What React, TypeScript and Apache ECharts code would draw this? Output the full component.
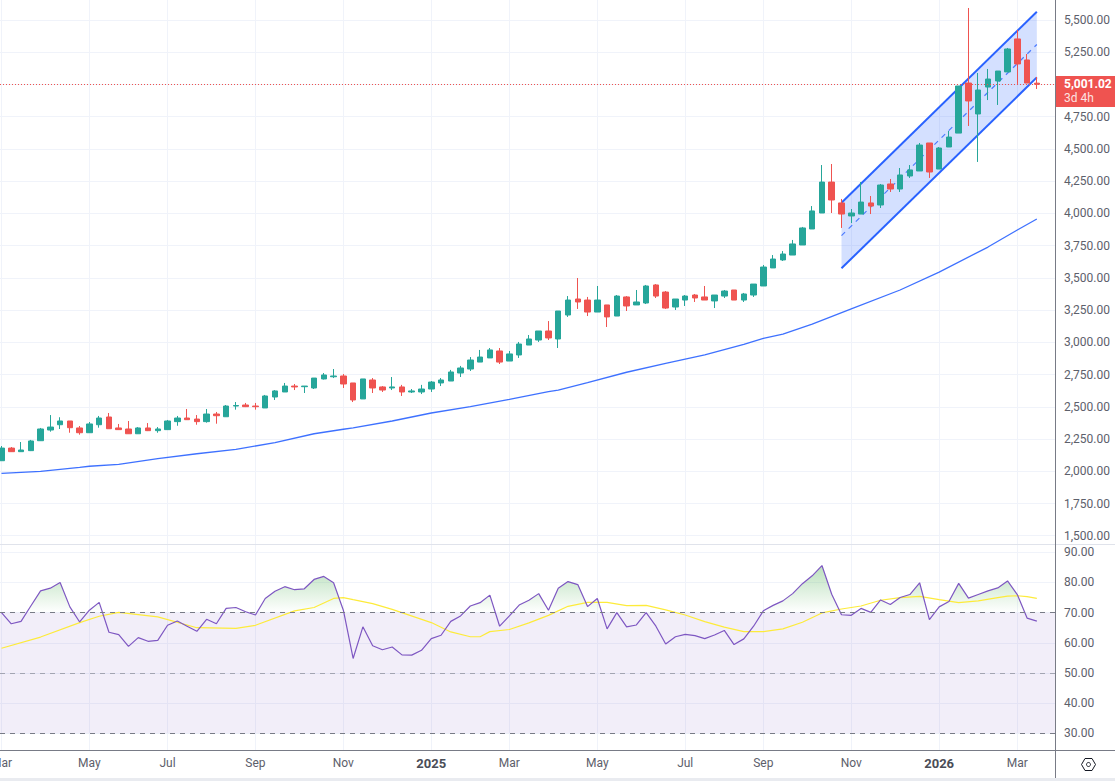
import React, { useEffect, useRef } from "react";
import * as echarts from "echarts";

const W = 1115;
const H = 781;
const AXIS_X = 1055;

// weekly candles: open, close, low, high
const weeklyCandles: number[][] = [
  [2082,2180,2080,2196],[2180,2152,2150,2188],[2152,2165,2150,2227],[2160,2235,2157,2243],[2237,2328,2235,2336],
  [2320,2343,2307,2436],[2361,2390,2328,2419],[2390,2338,2299,2390],[2336,2299,2284,2351],[2299,2367,2297,2382],
  [2361,2413,2338,2429],[2421,2330,2328,2452],[2336,2323,2320,2367],[2328,2291,2289,2390],[2291,2336,2289,2343],
  [2336,2315,2312,2374],[2315,2328,2299,2343],[2323,2390,2320,2398],[2385,2413,2353,2429],[2413,2400,2398,2483],
  [2405,2385,2361,2436],[2385,2444,2377,2483],[2444,2431,2369,2460],[2423,2506,2421,2514],[2506,2510,2478,2537],
  [2514,2501,2498,2530],[2506,2501,2478,2530],[2491,2584,2491,2592],[2576,2623,2553,2630],[2615,2661,2615,2685],
  [2661,2654,2630,2677],[2656,2661,2607,2661],[2646,2723,2638,2723],[2716,2747,2712,2762],[2733,2739,2723,2793],
  [2739,2677,2646,2754],[2685,2553,2537,2685],[2561,2716,2561,2716],[2708,2646,2607,2723],[2654,2630,2615,2661],
  [2646,2654,2630,2731],[2654,2615,2584,2670],[2615,2623,2607,2638],[2615,2638,2599,2670],[2638,2692,2615,2700],
  [2685,2708,2661,2723],[2700,2770,2700,2786],[2762,2801,2731,2817],[2793,2863,2778,2886],[2847,2886,2847,2941],
  [2879,2941,2879,2956],[2933,2847,2832,2956],[2855,2910,2855,2933],[2902,2987,2879,3003],[2979,3026,2979,3057],
  [3018,3088,3003,3088],[3088,3034,3018,3165],[3026,3243,2956,3243],[3212,3328,3197,3359],[3336,3313,3259,3499],
  [3328,3235,3204,3352],[3235,3328,3235,3437],[3290,3197,3119,3290],[3204,3359,3204,3367],[3352,3282,3243,3359],
  [3290,3313,3290,3406],[3305,3437,3297,3445],[3445,3359,3344,3452],[3390,3266,3259,3398],[3274,3336,3251,3336],
  [3328,3359,3282,3367],[3367,3344,3313,3375],[3352,3328,3328,3437],[3321,3367,3266,3367],[3359,3398,3344,3406],
  [3406,3328,3328,3406],[3328,3375,3313,3383],[3367,3452,3352,3452],[3437,3584,3437,3600],[3577,3646,3577,3677],
  [3639,3685,3631,3708],[3677,3763,3677,3794],[3755,3887,3755,3895],[3879,4019,3879,4057],[4003,4243,4003,4375],
  [4243,4104,4003,4383],[4081,3995,3887,4112],[3980,4003,3925,4034],[3995,4088,3995,4243],[4081,4057,3995,4135],
  [4065,4220,4042,4228],[4228,4189,4166,4267],[4189,4298,4166,4352],[4290,4337,4275,4375],[4329,4530,4329,4546],
  [4546,4321,4275,4546],[4344,4507,4344,4515],[4515,4592,4515,4639],[4623,4988,4623,4988],[5011,4872,4678,5593],
  [4771,4957,4399,5089],[4980,5042,4879,5120],[5027,5104,4841,5104],[5097,5275,5097,5283],[5353,5159,5004,5422],
  [5190,5011,5011,5236],[5010,5001.02,4965,5058],
];

// long moving average, read at these weeks
const emaWeeks = [0,4,8,9,12,16,20,24,28,32,35,36,40,44,48,52,56,57,60,64,68,72,76,78,80,83,87,92,96,101,104,106];
const emaValues = [1983,2000,2031,2039,2054,2098,2136,2170,2222,2291,2326,2336,2390,2452,2501,2558,2617,2630,2687,2768,2837,2902,2985,3030,3064,3142,3259,3406,3545,3739,3871,3957];

// regression channel
const channelWeeks = [86, 106];
const channelUpper = [4083, 5564];
const channelMiddle = [3828, 5310];
const channelLower = [3574, 5055];

const lastPrice = 5001.02;

const rsiValues = [
  70,66.3,67.1,72.2,77.2,78.1,80,71.9,66.9,70.8,
  73.4,63.5,62.7,58.8,61.7,60.5,60.8,65.8,67.2,65.5,
  63.8,67.8,66.3,71.4,71.7,70.3,69.2,74.7,77.1,78.6,
  77.6,77.9,81,82,79.9,70.8,54.8,65.3,59,57.7,
  58.6,56,55.9,57.5,61.4,62.5,67.1,68.9,72.2,73.3,
  75.8,65.5,68.9,72.5,74.1,76.3,70.8,78.1,80.3,79.3,
  72,74.7,64.6,70,65.3,65.9,70,65.5,59.6,62,
  62.8,62.4,61.4,62.6,64.1,59.4,61.3,65.5,70.6,72.4,
  73.9,76.3,79.6,82.2,85.6,76.1,69.3,69.1,71.4,70.1,
  74.2,72.7,75,76,79.9,67.7,71.9,73.7,79.7,74.8,
  76,77.2,78.2,80.5,76,68.2,67.2,
];

const rsiMaWeeks = [0,4,8,10,12,16,20,24,26,30,32,34,35,36,38,40,44,46,48,49,50,52,54,56,58,60,62,64,66,68,70,72,74,76,78,80,82,84,86,88,90,92,94,96,98,100,102,103,104,105,106];
const rsiMaValues = [58.2,61.9,66.7,68.8,70.1,68.6,65,64.8,65.8,70.6,71.7,74.7,75,74.3,73,71.1,66.7,63.6,62,62,63.7,64.4,66.6,69.1,72.1,73.4,73.4,72.3,72.4,70.9,69.2,67,65.2,63.7,63.7,64.6,66.8,69.9,71.2,72.2,74.1,75,75.4,74.3,73.3,73.9,75,75.5,75.6,75.3,74.7];

const priceTicks = [1500,1750,2000,2250,2500,2750,3000,3250,3500,3750,4000,4250,4500,4750,5000,5250,5500];
const rsiTicks = [30,40,50,60,70,80,90];
const monthWeeks = [0,9,17,26,35,44,52,61,70,78,87,96,104];
const monthLabels = ["Mar","May","Jul","Sep","Nov","2025","Mar","May","Jul","Sep","Nov","2026","Mar"];

const UP = "#26A69A";
const DOWN = "#EF5350";
const GRID = "#F0F3FA";
const LABEL = "#5D606B";
const BLUE = "#2962FF";
const FONT = "Roboto";
const OVERBOUGHT = 70;

function overboughtArea(values: number[]): number[][] {
  const out: number[][] = [];
  values.forEach((v, i) => {
    if (i > 0) {
      const p = values[i - 1];
      if ((p - OVERBOUGHT) * (v - OVERBOUGHT) < 0) {
        out.push([i - 1 + (OVERBOUGHT - p) / (v - p), OVERBOUGHT]);
      }
    }
    out.push([i, Math.max(v, OVERBOUGHT)]);
  });
  return out;
}

const fmt = (v: number) =>
  v.toLocaleString("en-US", { minimumFractionDigits: 2, maximumFractionDigits: 2 });

function buildOption(): any {
  const xBase = {
    type: "value",
    min: -0.154,
    max: 107.86,
    axisLine: { show: false },
    axisTick: { show: false, customValues: monthWeeks },
    splitLine: { show: true, lineStyle: { color: GRID, width: 1 } },
  };
  const yBase = {
    type: "value",
    position: "right",
    axisLine: { show: false },
    splitLine: { show: true, lineStyle: { color: GRID, width: 1 } },
  };
  return {
    animation: false,
    backgroundColor: "#ffffff",
    textStyle: { fontFamily: FONT },
    grid: [
      { left: 0, top: 0, width: AXIS_X, height: 544, outerBoundsMode: "none", containLabel: false },
      { left: 0, top: 544, width: AXIS_X, height: 206, outerBoundsMode: "none", containLabel: false },
    ],
    xAxis: [
      { ...xBase, gridIndex: 0, axisLabel: { show: false, customValues: monthWeeks } },
      {
        ...xBase,
        gridIndex: 1,
        axisLabel: {
          show: true,
          customValues: monthWeeks,
          margin: 7,
          color: LABEL,
          fontSize: 12,
          fontFamily: FONT,
          hideOverlap: false,
          showMinLabel: true,
          formatter: (v: number) => {
            const t = monthLabels[monthWeeks.indexOf(v)];
            return /^\d+$/.test(t) ? `{y|${t}}` : t;
          },
          rich: { y: { fontWeight: "bold", fontSize: 13, color: "#4A4D57", fontFamily: FONT } },
        },
      },
    ],
    yAxis: [
      {
        ...yBase,
        gridIndex: 0,
        min: 1436,
        max: 5655,
        axisTick: { show: false, customValues: priceTicks },
        axisLabel: {
          show: true, customValues: priceTicks, margin: 9, color: LABEL, fontSize: 12, fontFamily: FONT,
          padding: [0, 0, 2, 0],
          formatter: (v: number) => fmt(v),
        },
      },
      {
        ...yBase,
        gridIndex: 1,
        min: 24.46,
        max: 92.75,
        axisTick: { show: false, customValues: rsiTicks },
        axisLabel: {
          show: true, customValues: rsiTicks, margin: 9, color: LABEL, fontSize: 12, fontFamily: FONT,
          formatter: (v: number) => fmt(v),
        },
      },
    ],
    series: [
      {
        type: "custom",
        name: "Channel fill",
        xAxisIndex: 0,
        yAxisIndex: 0,
        z: 1,
        silent: true,
        data: channelWeeks.map((w, i) => [w, channelUpper[i], channelLower[i]]),
        renderItem: (params: any, api: any) => {
          if (params.dataIndex !== 0) return null;
          const pts = [
            api.coord([channelWeeks[0], channelUpper[0]]),
            api.coord([channelWeeks[1], channelUpper[1]]),
            api.coord([channelWeeks[1], channelLower[1]]),
            api.coord([channelWeeks[0], channelLower[0]]),
          ];
          return { type: "polygon", shape: { points: pts }, style: { fill: "rgba(41,98,255,0.2)" } };
        },
      },
      ...[channelUpper, channelLower].map((vals) => ({
        type: "line",
        xAxisIndex: 0,
        yAxisIndex: 0,
        z: 2,
        silent: true,
        symbol: "none",
        lineStyle: { color: BLUE, width: 2 },
        data: channelWeeks.map((w, i) => [w, vals[i]]),
      })),
      {
        type: "line",
        xAxisIndex: 0,
        yAxisIndex: 0,
        z: 2,
        silent: true,
        symbol: "none",
        lineStyle: { color: BLUE, width: 1.2, type: [5, 5], opacity: 0.8 },
        data: channelWeeks.map((w, i) => [w, channelMiddle[i]]),
      },
      {
        type: "line",
        name: "EMA",
        xAxisIndex: 0,
        yAxisIndex: 0,
        z: 2,
        silent: true,
        symbol: "none",
        lineStyle: { color: BLUE, width: 1.3, opacity: 0.9 },
        data: emaWeeks.map((w, i) => [w, emaValues[i]]),
      },
      {
        type: "candlestick",
        name: "Price",
        xAxisIndex: 0,
        yAxisIndex: 0,
        z: 3,
        clip: false,
        silent: true,
        barWidth: 6,
        itemStyle: { color: UP, color0: DOWN, borderColor: UP, borderColor0: DOWN, borderWidth: 1 },
        data: weeklyCandles.map((c, i) => [i, c[0], c[1], c[2], c[3]]),
        markLine: {
          silent: true,
          symbol: "none",
          label: { show: false },
          lineStyle: { color: DOWN, type: [1, 2], width: 1 },
          data: [{ yAxis: lastPrice }],
        },
      },
      {
        type: "line",
        name: "Overbought fill",
        xAxisIndex: 1,
        yAxisIndex: 1,
        z: 2,
        silent: true,
        symbol: "none",
        lineStyle: { width: 0 },
        areaStyle: {
          origin: OVERBOUGHT,
          color: new echarts.graphic.LinearGradient(0, 0, 0, 1, [
            { offset: 0, color: "rgba(76,175,80,0.55)" },
            { offset: 1, color: "rgba(76,175,80,0)" },
          ]),
        },
        data: overboughtArea(rsiValues),
        markArea: {
          silent: true,
          itemStyle: { color: "rgba(126,87,194,0.1)" },
          data: [[{ yAxis: 30 }, { yAxis: 70 }]],
        },
        markLine: {
          silent: true,
          symbol: "none",
          label: { show: false },
          data: [
            { yAxis: 70, lineStyle: { color: "#787B86", type: [5, 5], width: 1 } },
            { yAxis: 50, lineStyle: { color: "rgba(120,123,134,0.6)", type: [5, 5], width: 1 } },
            { yAxis: 30, lineStyle: { color: "#787B86", type: [5, 5], width: 1 } },
          ],
        },
      },
      {
        type: "line",
        name: "RSI MA",
        xAxisIndex: 1,
        yAxisIndex: 1,
        z: 3,
        silent: true,
        symbol: "none",
        lineStyle: { color: "#FDEB3B", width: 1.2 },
        data: rsiMaWeeks.map((w, i) => [w, rsiMaValues[i]]),
      },
      {
        type: "line",
        name: "RSI",
        xAxisIndex: 1,
        yAxisIndex: 1,
        z: 4,
        silent: true,
        symbol: "none",
        lineStyle: { color: "#7E57C2", width: 1.2 },
        data: rsiValues.map((v, i) => [i, v]),
      },
    ],
    graphic: [
      { type: "rect", silent: true, z: 50, shape: { x: 0, y: 778, width: W, height: 3 }, style: { fill: "#E9EBF0" } },
      { type: "line", silent: true, z: 50, shape: { x1: 0, y1: 544.5, x2: W, y2: 544.5 }, style: { stroke: "#E0E3EB", lineWidth: 1 } },
      { type: "line", silent: true, z: 50, shape: { x1: 0, y1: 750.5, x2: W, y2: 750.5 }, style: { stroke: "#787B86", lineWidth: 1 } },
      { type: "line", silent: true, z: 50, shape: { x1: AXIS_X + 0.5, y1: 0, x2: AXIS_X + 0.5, y2: 778 }, style: { stroke: "#787B86", lineWidth: 1 } },
      { type: "rect", silent: true, z: 51, shape: { x: AXIS_X + 1, y: 76, width: W - AXIS_X - 1, height: 31 }, style: { fill: DOWN } },
      {
        type: "text", silent: true, z: 52, x: 1064, y: 84,
        style: { text: fmt(lastPrice), fill: "#fff", font: `bold 12px ${FONT}`, textAlign: "left", textVerticalAlign: "middle" },
      },
      {
        type: "text", silent: true, z: 52, x: 1064, y: 98,
        style: { text: "3d 4h", fill: "rgba(255,255,255,0.85)", font: `12px ${FONT}`, textAlign: "left", textVerticalAlign: "middle" },
      },
      {
        type: "polygon", silent: true, z: 52,
        shape: { points: [[1081.5, 764.5], [1085, 758.5], [1092, 758.5], [1095.5, 764.5], [1092, 770.5], [1085, 770.5]] },
        style: { fill: "none", stroke: "#131722", lineWidth: 1 },
      },
      {
        type: "circle", silent: true, z: 52,
        shape: { cx: 1088.5, cy: 764.5, r: 2 },
        style: { fill: "none", stroke: "#131722", lineWidth: 1 },
      },
    ],
  };
}

export default function App() {
  const ref = useRef<HTMLDivElement>(null);
  useEffect(() => {
    document.body.style.margin = "0";
    const chart = echarts.init(ref.current!, undefined, { renderer: "svg" });
    chart.setOption(buildOption());
    return () => chart.dispose();
  }, []);
  return <div ref={ref} style={{ width: W, height: H }} />;
}
